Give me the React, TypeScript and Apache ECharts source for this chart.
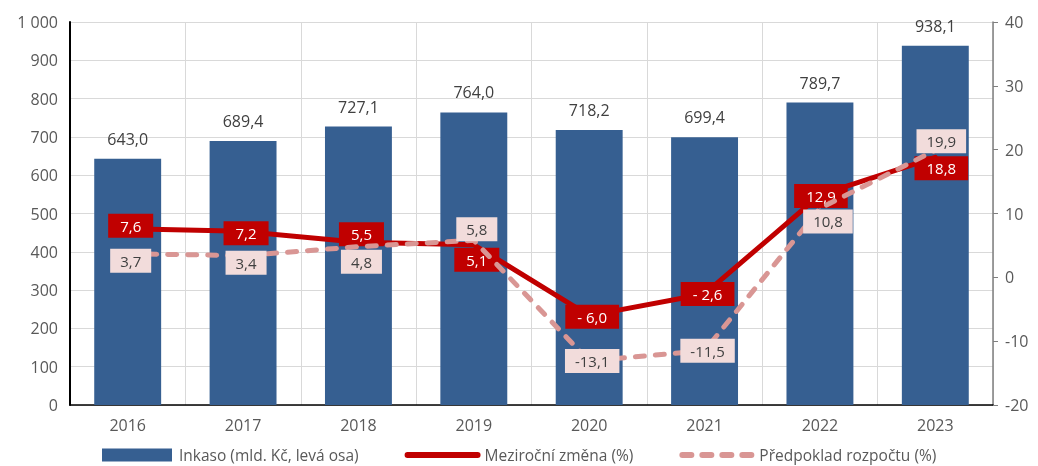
import React, { useEffect, useRef } from "react";
import * as echarts from "echarts";

const categories = ["2016", "2017", "2018", "2019", "2020", "2021", "2022", "2023"];
const inkaso = [643.0, 689.4, 727.1, 764.0, 718.2, 699.4, 789.7, 938.1];
const mezirocni = [7.6, 7.2, 5.5, 5.1, -6.0, -2.6, 12.9, 18.8];
const predpoklad = [3.7, 3.4, 4.8, 5.8, -13.1, -11.5, 10.8, 19.9];
const leftTicks = { min: 0, max: 1000, interval: 100 };
const rightTicks = { min: -20, max: 40, interval: 10 };

// label placement offsets [dx, dy] per point (style only)
const redOffsets = [[3, -3], [3, 2], [3, -8], [3, 15], [3, 1], [3, 0], [1, 1], [6, 11]];
const pinkOffsets = [[3, 7], [3, 7], [3, 15], [3, -11], [3, 0], [3, 0], [8, 13], [6, -9]];

const FONT = "Open Sans";
const fmt = (v: number) => v.toFixed(1).replace(".", ",");
const fmtRed = (v: number) => (v < 0 ? "- " + Math.abs(v).toFixed(1).replace(".", ",") : fmt(v));
const fmtThousand = (v: number) => (v >= 1000 ? String(v).replace(/\B(?=(\d{3})+(?!\d))/g, " ") : String(v));

export default function App() {
  const ref = useRef<HTMLDivElement>(null);
  useEffect(() => {
    if (!ref.current) return;
    const chart = echarts.init(ref.current, undefined, { renderer: "svg" });
    chart.setOption({
      animation: false,
      textStyle: { fontFamily: FONT },
      grid: { left: 70, right: 45, top: 22, bottom: 61 },
      legend: {
        top: 447,
        left: 102,
        padding: 0,
        itemWidth: 70,
        itemHeight: 13,
        itemGap: 46,
        textStyle: { fontFamily: FONT, fontSize: 15.5, lineHeight: 16, color: "#595959", padding: [0, 0, 0, 2] },
        data: [
          { name: "Inkaso (mld. Kč, levá osa)", icon: "rect" },
          {
            name: "Meziroční změna (%)",
            itemStyle: { opacity: 0 },
            lineStyle: { width: 6, cap: "round" },
          },
          {
            name: "Předpoklad rozpočtu (%)",
            itemStyle: { opacity: 0 },
            lineStyle: { width: 6, type: [9, 11], cap: "round" },
          },
        ],
      },
      xAxis: {
        type: "category",
        data: categories,
        axisLine: { lineStyle: { color: "#000", width: 1.5 } },
        axisTick: { show: false },
        splitLine: { show: true, lineStyle: { color: "#d9d9d9" } },
        axisLabel: { fontFamily: FONT, fontSize: 16, color: "#595959", margin: 12 },
      },
      yAxis: [
        {
          type: "value",
          ...leftTicks,
          axisLine: { show: true, lineStyle: { color: "#000", width: 2 } },
          axisTick: { show: false },
          splitLine: { lineStyle: { color: "#d9d9d9" } },
          axisLabel: { fontFamily: FONT, fontSize: 16, color: "#595959", margin: 12, formatter: fmtThousand },
        },
        {
          type: "value",
          ...rightTicks,
          position: "right",
          axisLine: { show: true, lineStyle: { color: "#7f7f7f", width: 1.5 } },
          axisTick: { show: true, length: 5, lineStyle: { color: "#7f7f7f" } },
          splitLine: { show: false },
          axisLabel: { fontFamily: FONT, fontSize: 16, color: "#595959", margin: 12 },
        },
      ],
      series: [
        {
          name: "Inkaso (mld. Kč, levá osa)",
          type: "bar",
          data: inkaso,
          barWidth: "58%",
          itemStyle: { color: "#365F91" },
          label: {
            show: true,
            position: "top",
            distance: 12,
            fontFamily: FONT,
            fontSize: 16,
            color: "#404040",
            formatter: (p: any) => fmt(p.value),
          },
        },
        {
          name: "Meziroční změna (%)",
          type: "line",
          yAxisIndex: 1,
          data: mezirocni.map((v, i) => ({
            value: v,
            label: { offset: redOffsets[i] },
          })),
          symbol: "circle",
          symbolSize: 1,
          itemStyle: { color: "#C00000" },
          lineStyle: { color: "#C00000", width: 5, cap: "round" },
          z: 3,
          label: {
            show: true,
            position: "inside",
            fontFamily: FONT,
            fontSize: 15,
            color: "#ffffff",
            backgroundColor: "#C00000",
            padding: [5, 12, 4, 12],
            formatter: (p: any) => fmtRed(p.value),
          },
        },
        {
          name: "Předpoklad rozpočtu (%)",
          type: "line",
          yAxisIndex: 1,
          data: predpoklad.map((v, i) => ({
            value: v,
            label: { offset: pinkOffsets[i] },
          })),
          symbol: "circle",
          symbolSize: 1,
          itemStyle: { color: "#D99694" },
          lineStyle: { color: "#D99694", width: 5, type: [9, 11], cap: "round" },
          z: 4,
          label: {
            show: true,
            position: "inside",
            fontFamily: FONT,
            fontSize: 15,
            color: "#404040",
            backgroundColor: "#F2DCDB",
            padding: [5, 10, 4, 10],
            formatter: (p: any) => fmt(p.value),
          },
        },
      ],
    });
    return () => chart.dispose();
  }, []);
  return (
    <div
      ref={ref}
      style={{ position: "fixed", left: 0, top: 0, width: 1038, height: 466 }}
    />
  );
}
